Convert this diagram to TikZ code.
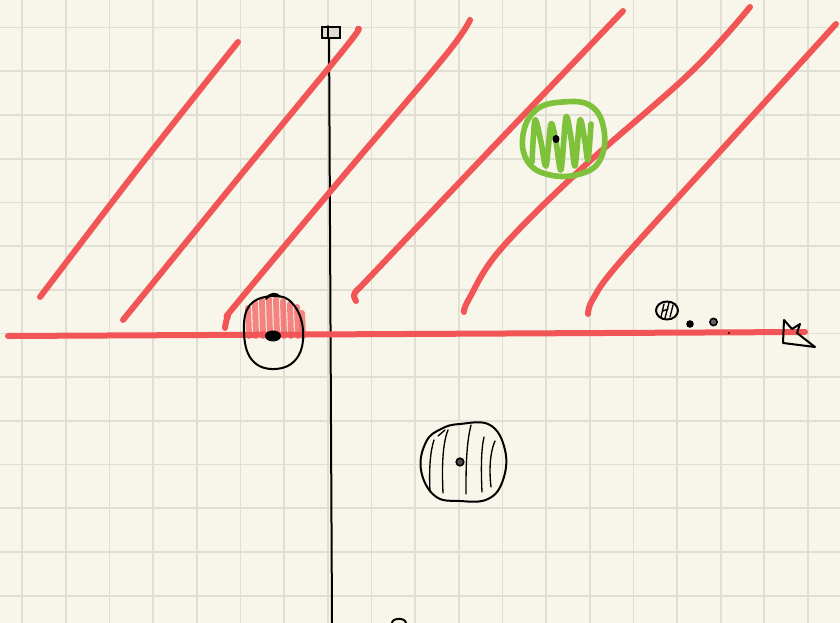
\documentclass[tikz,border=0pt]{standalone}
\usetikzlibrary{arrows.meta}
\definecolor{paper}{HTML}{F8F6EA}
\definecolor{gridline}{HTML}{E1DFD3}
\definecolor{penred}{HTML}{F25555}
\definecolor{pengreen}{HTML}{7DC23A}
\definecolor{boxgray}{HTML}{DEDCD2}
\tikzset{
  redpen/.style={penred,line width=4.5pt,line cap=round,line join=round},
  greenpen/.style={pengreen,line width=4.2pt,line cap=round,line join=round},
  inkpen/.style={black,line width=1.5pt,line cap=round,line join=round},
  hatchpen/.style={black,line width=1pt,line cap=round},
}

\begin{document}
\begin{tikzpicture}[x=0.75pt,y=-0.75pt]
\useasboundingbox (0,0) rectangle (840,623);
\fill[paper] (0,0) rectangle (840,623);

% squared paper
\foreach \i in {0,...,18}
  \draw[gridline,line width=1.3pt] ({22.3+43.65*\i},0) -- ({22.3+43.65*\i},623);
\foreach \j in {0,...,13}
  \draw[gridline,line width=1.3pt] (0,{27.6+43.7*\j}) -- (840,{27.6+43.7*\j});

% vertical axis with its little box
\coordinate (ytop) at (329,27);
\coordinate (ybot) at (332,623);
\draw[inkpen] (ytop) -- (ybot);
\node[draw,line width=1.5pt,fill=boxgray,minimum width=13.5pt,minimum height=8pt,inner sep=0pt] (ybox) at (331,32.5) {};
\draw[inkpen] (ybox.north) ++(-2.2pt,0) -- ++(0,-8pt);

% the slanted red lines
\draw[redpen] plot[smooth,tension=0.6] coordinates {(40,297) (140,166) (238,42)};
\draw[redpen] plot[smooth,tension=0.6] coordinates {(123,320) (240,176) (345,48) (358,29)};
\draw[redpen] plot[smooth,tension=0.6] coordinates {(225,328) (228,316) (238,302) (345,174) (445,56) (470,20)};
\draw[redpen] plot[smooth,tension=0.6] coordinates {(356,301) (354,295) (358,289) (368,279) (495,145) (623,11)};
\draw[redpen] plot[smooth,tension=0.6] coordinates {(464,312) (469,299) (500,250) (580,170) (690,73) (750,7)};
\draw[redpen] plot[smooth,tension=0.6] coordinates {(588,314) (593,299) (620,262) (725,146) (836,24)};

% horizontal axis
\coordinate (xleft) at (8,336);
\coordinate (xright) at (805,332);
\draw[redpen] (xleft) -- (xright);
\draw[inkpen] (784,320) -- (783,343) -- (815,347) -- (797,333) -- (800,324) -- (792,329) -- cycle;

% red blob near the origin
\begin{scope}[penred,opacity=0.7,line width=4.5pt,line cap=round]
  \foreach \x/\t in {248/308,255/303,262/300,269/299,276/299,283/301,290/304,297/307,302/313}
    \draw (\x,\t) -- (\x+1,336);
\end{scope}
\draw[inkpen] plot[smooth cycle,tension=0.7] coordinates
  {(274,296) (293,304) (303,330) (297,358) (275,369) (252,360) (244,332) (250,305)};
\draw[inkpen] (266,299) .. controls (269,293) and (277,292) .. (280,297);
\fill[black] (273,336) ellipse (8 and 5.5);

% green blob
\draw[greenpen] plot[smooth cycle,tension=0.7] coordinates
  {(563,102) (591,106) (604,130) (600,160) (580,174) (550,175) (528,162) (523,135) (536,110)};
\draw[greenpen] plot[smooth,tension=0.5] coordinates
  {(532,162) (535,120) (541,142) (546,166) (551,124) (556,142) (561,170) (566,117) (571,138) (575,166) (580,120) (585,142) (588,160) (591,124)};
\fill[black] (556,139) ellipse (3.5 and 4);

% black hatched blob
\draw[inkpen] plot[smooth cycle,tension=0.7] coordinates
  {(460,424) (490,425) (505,450) (503,480) (488,499) (460,501) (435,496) (421,470) (426,442) (441,429)};
\draw[hatchpen] (430,492) .. controls (429,470) and (430,452) .. (434,440);
\draw[hatchpen] (443,493) .. controls (442,470) and (442,445) .. (448,430);
\draw[hatchpen] (466,494) .. controls (466,470) and (466,445) .. (471,425);
\draw[hatchpen] (482,492) .. controls (481,470) and (481,450) .. (484,437);
\draw[hatchpen] (491,487) .. controls (489,470) and (490,452) .. (495,441);
\draw[hatchpen] (438,436) -- (445,430);
\draw[black,line width=1.2pt,fill=black!70] (460,462) circle (3.8);

% small things on the right
\draw[inkpen] (667,310.5) ellipse (11 and 9);
\draw[hatchpen] (661,317) -- (664,304) (665,318) -- (669,303) (670,317) -- (673,305) (663,311) -- (668,309);
\fill[black] (690,324) circle (3.8);
\draw[black,line width=1.2pt,fill=black!60] (713.5,322) circle (3.6);
\fill[black] (729,333) circle (1.2);

% stray mark at the bottom
\draw[inkpen] (392,623) .. controls (392,618) and (405,617) .. (406,623);
\end{tikzpicture}
\end{document}
